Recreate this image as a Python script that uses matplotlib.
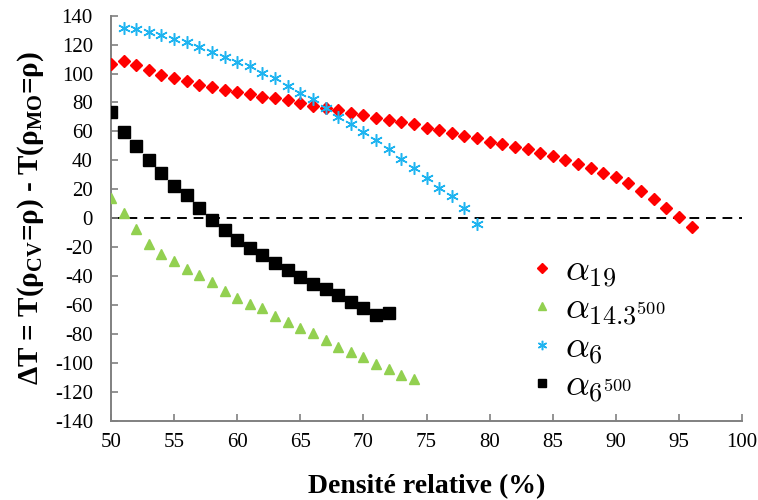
import numpy as np
import matplotlib
matplotlib.use('Agg')
import matplotlib.pyplot as plt
from matplotlib.font_manager import FontProperties

plt.rcParams['font.family'] = ['Liberation Serif', 'DejaVu Serif']
plt.rcParams['mathtext.fontset'] = 'custom'
plt.rcParams['mathtext.rm'] = 'Liberation Serif'
plt.rcParams['mathtext.bf'] = 'Liberation Serif:bold'
plt.rcParams['axes.unicode_minus'] = False

# alpha_19 : densities 50..96
x_a19 = np.arange(50, 97)
a19 = [106.4, 108.6, 105.6, 102.3, 99.0, 96.7, 94.7, 92.1, 90.7, 88.4,
       87.3, 85.9, 84.0, 82.9, 81.5, 79.9, 77.6, 76.4, 74.6, 72.9,
       71.2, 69.1, 67.7, 66.5, 64.9, 62.6, 60.8, 58.7, 56.7, 55.3,
       52.9, 51.5, 49.3, 47.7, 45.1, 42.8, 40.5, 37.3, 34.9, 31.3,
       28.5, 24.6, 18.9, 13.5, 6.9, 0.9, -6.0]

# alpha_14.3^500 : densities 50..74
x_a143 = np.arange(50, 75)
a143 = [14.2, 3.5, -7.2, -17.6, -24.5, -29.5, -34.8, -39.2, -44.2, -50.2,
        -54.9, -59.0, -62.4, -67.6, -71.8, -75.6, -79.7, -84.3, -88.9, -92.2,
        -96.3, -100.5, -104.6, -108.3, -111.5]

# alpha_6 : densities 51..79
x_a6 = np.arange(51, 80)
a6 = [131.3, 130.6, 128.9, 126.6, 124.1, 122.0, 118.6, 115.1, 111.4, 108.2,
      105.2, 100.2, 96.7, 91.4, 86.6, 82.2, 76.4, 70.0, 64.9, 59.8,
      54.1, 47.7, 40.8, 34.9, 27.6, 21.1, 15.4, 6.9, -4.1]

# alpha_6^500 : densities 50..72
x_a6_500 = np.arange(50, 73)
a6_500 = [73.6, 59.8, 49.9, 40.5, 31.3, 22.4, 15.9, 7.3, -1.3, -8.3,
          -15.2, -20.3, -25.4, -31.1, -35.9, -40.6, -45.2, -48.7, -53.2, -57.8,
          -62.2, -66.8, -65.4]

xticks = np.arange(50, 101, 5)
yticks = np.arange(-140, 141, 20)

fig = plt.figure(figsize=(7.58, 5), dpi=100)
ax = fig.add_axes([0.1464, 0.1586, 0.8326, 0.81])

ax.axhline(0, color='black', lw=1.4, ls=(0, (5, 3.5)), zorder=1)

ax.plot(x_a19, a19, ls='none', marker='D', ms=6.5, color='#ff0000',
        mec='#ff0000', label=r'$\alpha_{19}$', zorder=3)
ax.plot(x_a143, a143, ls='none', marker='^', ms=7, color='#92d050',
        mec='#92d050', label=r'$\alpha_{14.3^{500}}$', zorder=3)
ax.plot(x_a6, a6, ls='none', marker=(6, 2, 0), ms=9, mew=1.1,
        color='#1fb4f0', label=r'$\alpha_{6}$', zorder=3)
ax.plot(x_a6_500, a6_500, ls='none', marker='s', ms=8, color='black',
        label=r'$\alpha_{6^{500}}$', zorder=3)

ax.set_xlim(50, 100)
ax.set_ylim(-140, 140)
ax.set_xticks(xticks)
ax.set_yticks(yticks)
ax.tick_params(direction='in', length=5, width=1.2, color='#808080',
               labelsize=15)
ax.tick_params(axis='y', pad=13)
ax.tick_params(axis='x', pad=9)
for s in ['top', 'right']:
    ax.spines[s].set_visible(False)
for s in ['left', 'bottom']:
    ax.spines[s].set_color('#808080')
    ax.spines[s].set_linewidth(1.4)

ax.set_xlabel('Densité relative (%)', fontsize=20, fontweight='bold',
              labelpad=16)
ax.set_ylabel(r'ΔT = T(ρ$_{\mathbf{CV}}$=ρ) - T(ρ$_{\mathbf{MO}}$=ρ)',
              fontsize=21, fontweight='bold', labelpad=6)

leg_font = FontProperties(size=27, math_fontfamily='cm')
ax.legend(loc='lower left', bbox_to_anchor=(0.6, -0.045), prop=leg_font,
          frameon=False, handletextpad=0.1, labelspacing=0.08,
          handlelength=1.0, markerscale=0.75)

plt.savefig('out.png', dpi=100)
plt.close('all')
